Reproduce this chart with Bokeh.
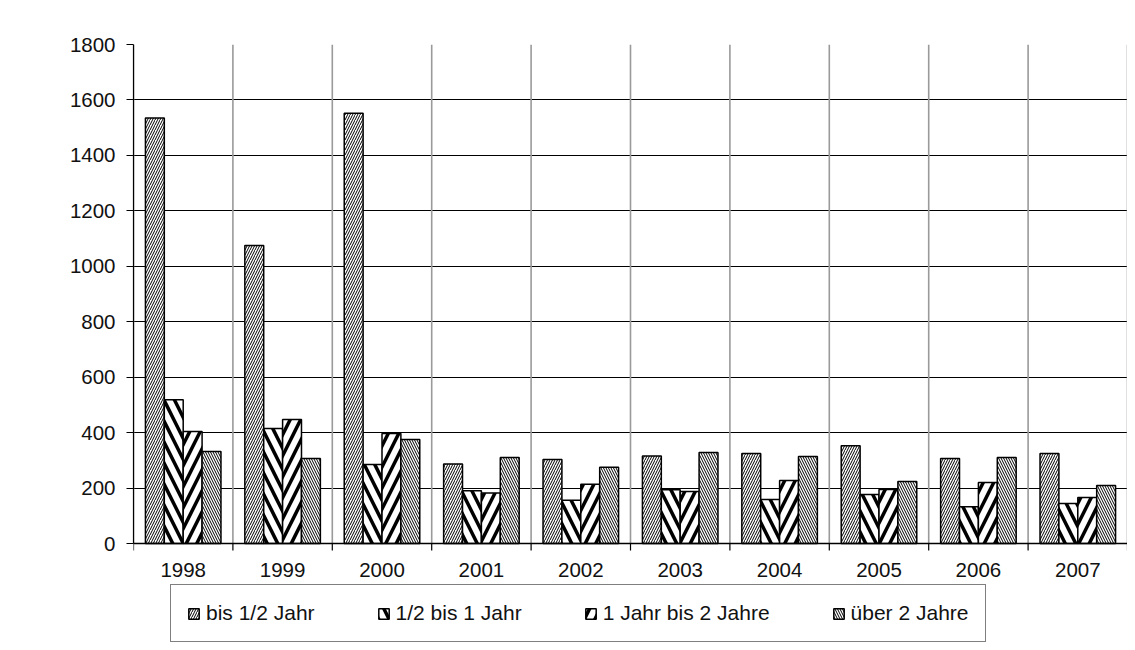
import math
from bokeh.plotting import figure
from bokeh.models import (ColumnDataSource, Range1d, FixedTicker, Legend, LegendItem)
from bokeh.core.properties import value
from bokeh.transform import dodge
from bokeh.embed import file_html
from bokeh.resources import INLINE

years = ["1998", "1999", "2000", "2001", "2002", "2003", "2004", "2005", "2006", "2007"]
bis_halb_jahr = [1535, 1075, 1552, 287, 303, 316, 325, 353, 307, 325]
halb_bis_1_jahr = [519, 415, 285, 190, 156, 194, 159, 177, 133, 144]
jahr1_bis_2 = [404, 447, 397, 182, 214, 188, 227, 195, 220, 166]
ueber_2_jahre = [332, 307, 375, 310, 275, 328, 314, 224, 310, 209]
series_labels = ["bis 1/2 Jahr", "1/2 bis 1 Jahr", "1 Jahr bis 2 Jahre", "über 2 Jahre"]
y_ticks = [0, 200, 400, 600, 800, 1000, 1200, 1400, 1600, 1800]

FONT = "Liberation Sans"
FS_AXIS = "20.5px"
FS_LEG = "21px"

n = len(years)
centers = [i + 0.5 for i in range(n)]      # category slot centres
bounds = list(range(n + 1))                # category slot boundaries
y_max = y_ticks[-1]
y_min = -357                               # room below the axis for labels and legend

src = ColumnDataSource(dict(x=centers, base=[0] * n, years=years, s1=bis_halb_jahr,
                            s2=halb_bis_1_jahr, s3=jahr1_bis_2, s4=ueber_2_jahre))
bsrc = ColumnDataSource(dict(x=bounds, base=[0] * len(bounds), top=[y_max] * len(bounds)))

p = figure(width=1127, height=642, x_range=Range1d(0, n),
           y_range=Range1d(y_min, y_max), output_backend="svg", toolbar_location=None,
           min_border_left=133, min_border_top=44, min_border_right=0, min_border_bottom=0,
           x_axis_location=None)
p.outline_line_color = None
p.background_fill_color = "white"
p.border_fill_color = "white"

# grids: horizontal via ygrid, vertical slot boundaries as segments limited to 0..1800
p.xgrid.grid_line_color = None
p.ygrid.ticker = FixedTicker(ticks=y_ticks)
p.ygrid.grid_line_color = "black"
p.ygrid.grid_line_width = 1.2
p.segment(x0="x", x1="x", y0="base", y1="top", source=bsrc,
          line_color="#9a9a9a", line_width=1.6)

# y axis
ya = p.yaxis[0]
ya.ticker = FixedTicker(ticks=y_ticks)
ya.bounds = (0, y_max)
ya.axis_line_color = "black"
ya.axis_line_width = 1.2
ya.major_tick_out = 7
ya.major_tick_in = 0
ya.minor_tick_line_color = None
ya.major_label_standoff = 11
ya.major_label_text_font = FONT
ya.major_label_text_font_size = FS_AXIS
ya.major_label_text_color = "#111111"

# bars
offsets = [-0.285, -0.095, 0.095, 0.285]
fields = ["s1", "s2", "s3", "s4"]
patterns = ["right_diagonal_line", "left_diagonal_line", "right_diagonal_line", "left_diagonal_line"]
scales = [5, 21, 21, 5]
weights = [1.0, 3.5, 3.5, 1.0]
renderers = []
for f, off, pat, sc, w in zip(fields, offsets, patterns, scales, weights):
    r = p.vbar(x=dodge("x", off), top=f, bottom="base", width=0.19, source=src,
               fill_color="white", line_color="black", line_width=1.5,
               hatch_pattern=pat, hatch_scale=sc, hatch_weight=w, hatch_color="black")
    renderers.append(r)

# x axis line, tick marks at slot boundaries, and year labels
p.segment(x0=0, x1=n, y0=0, y1=0, line_color="black", line_width=1.5)
p.ray(x="x", y="base", length=7, length_units="screen", angle=-math.pi / 2,
      source=bsrc, line_color="black", line_width=1.2)
p.text(x="x", y="base", text="years", source=src, text_align="center", text_baseline="top",
       y_offset=19, text_font=value(FONT), text_font_size=FS_AXIS, text_color="#111111")

legend = Legend(items=[LegendItem(label=l, renderers=[r]) for l, r in zip(series_labels, renderers)],
                orientation="horizontal", location=(37, 0),
                label_text_font=FONT, label_text_font_size=FS_LEG, label_text_color="#111111",
                glyph_width=13, glyph_height=13, label_standoff=6, spacing=62,
                padding=16, margin=0, border_line_color="black", border_line_width=1,
                label_height=18, background_fill_color="white")
p.add_layout(legend, "center")

open("out.html", "w").write(file_html(p, INLINE))
